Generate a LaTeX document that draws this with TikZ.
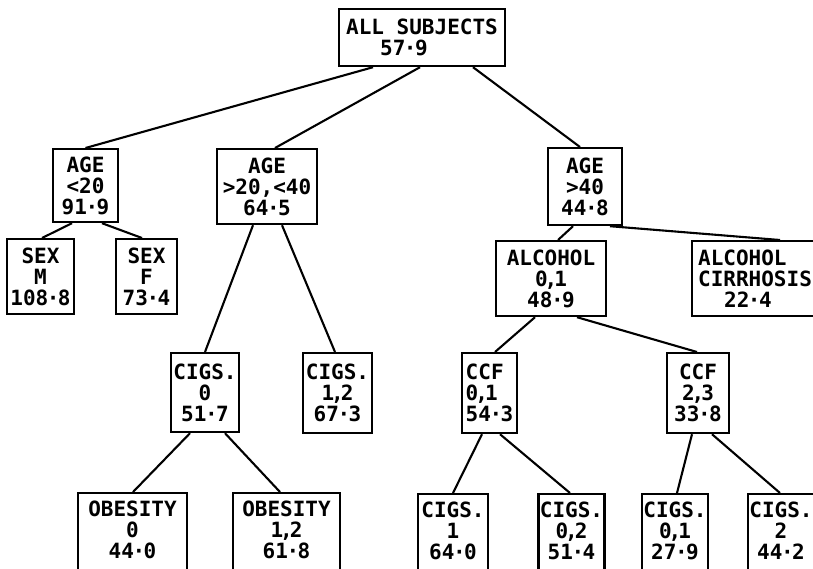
\documentclass[tikz,border=0pt]{standalone}
\usepackage{fontspec}
\newfontfamily\boxfont{DejaVu Sans Mono}
\newcommand{\mydot}{\kern-1.5pt·\kern-1.5pt}
\newcommand{\mycomma}{\kern-3pt,\kern-3pt}
\begin{document}
\begin{tikzpicture}[x=1pt,y=-1pt,
  box/.style={draw, line width=2.2pt, anchor=north, inner xsep=1pt, inner ysep=6pt,
    align=center, font=\boxfont\bfseries\fontsize{21}{21}\selectfont},
  lnk/.style={line width=2.1pt}]
\clip (0,0) rectangle (813,568);
\fill[white] (0,0) rectangle (813,568);
% level 0
\node[box, minimum width=166pt, minimum height=57pt, align=left] (all) at (422,8) {ALL SUBJECTS\\\hspace*{34pt}57\mydot 9};
% level 1
\node[box, minimum width=65pt, minimum height=73pt] (age1) at (85.5,148) {AGE\\<20\\91\mydot 9};
\node[box, minimum width=100pt, minimum height=75pt] (age2) at (267,148) {AGE\\>20,<40\\64\mydot 5};
\node[box, minimum width=74pt, minimum height=77pt] (age3) at (585,147) {AGE\\>40\\44\mydot 8};
% level 2
\node[box, minimum width=67pt, minimum height=75pt] (sexM) at (40.5,238) {SEX\\M\\108\mydot 8};
\node[box, minimum width=61pt, minimum height=75pt] (sexF) at (146.5,238) {SEX\\F\\73\mydot 4};
\node[box, minimum width=110pt, minimum height=75pt] (alc) at (551,240) {ALCOHOL\\0\mycomma 1\\48\mydot 9};
\node[box, minimum width=126pt, minimum height=75pt, align=left] (cirr) at (755,240) {ALCOHOL\\CIRRHOSIS\\\hspace*{26pt}22\mydot 4};
% level 3
\node[box, minimum width=68pt, minimum height=79pt] (cigs0) at (205,352) {CIGS.\\0\\51\mydot 7};
\node[box, minimum width=69pt, minimum height=80pt] (cigs12) at (337.5,352) {CIGS.\\1\mycomma 2\\67\mydot 3};
\node[box, minimum width=55pt, minimum height=80pt, align=left] (ccf01) at (489.5,352) {CCF\\0\mycomma 1\\54\mydot 3};
\node[box, minimum width=62pt, minimum height=80pt] (ccf23) at (698,352) {CCF\\2\mycomma 3\\33\mydot 8};
% level 4
\node[box, minimum width=109pt, inner ysep=8pt] (ob0) at (132.5,492) {OBESITY\\0\\44\mydot 0\\\mbox{}};
\node[box, minimum width=107pt, inner ysep=8pt] (ob12) at (286.5,492) {OBESITY\\1\mycomma 2\\61\mydot 8\\\mbox{}};
\node[box, minimum width=70pt, inner ysep=8pt] (cigsA) at (453,493) {CIGS.\\1\\64\mydot 0\\\mbox{}};
\node[box, minimum width=66pt, inner ysep=8pt] (cigsB) at (571.5,493) {CIGS.\\0\mycomma 2\\51\mydot 4\\\mbox{}};
\node[box, minimum width=66pt, inner ysep=8pt] (cigsC) at (675,493) {CIGS.\\0\mycomma 1\\27\mydot 9\\\mbox{}};
\node[box, minimum width=66pt, inner ysep=8pt] (cigsD) at (781,493) {CIGS.\\2\\44\mydot 2\\\mbox{}};
% connectors
\draw[lnk] ([xshift=-49pt]all.south) -- (age1.north);
\draw[lnk] ([xshift=-2pt]all.south) -- ([xshift=8pt]age2.north);
\draw[lnk] ([xshift=51pt]all.south) -- ([xshift=-5pt]age3.north);
\draw[lnk] ([xshift=-13.5pt]age1.south) -- ([xshift=1.5pt]sexM.north);
\draw[lnk] ([xshift=16.5pt]age1.south) -- ([xshift=-4.5pt]sexF.north);
\draw[lnk] ([xshift=-14pt]age2.south) -- (cigs0.north);
\draw[lnk] ([xshift=15pt]age2.south) -- ([xshift=-2.5pt]cigs12.north);
\draw[lnk] ([xshift=-12pt]age3.south) -- ([xshift=7pt]alc.north);
\draw[lnk] ([xshift=25pt]age3.south) -- ([xshift=25pt]cirr.north);
\draw[lnk] ([xshift=-16pt]alc.south) -- ([xshift=5.5pt]ccf01.north);
\draw[lnk] ([xshift=26pt]alc.south) -- ([xshift=-1pt]ccf23.north);
\draw[lnk] ([xshift=-15pt]cigs0.south) -- ([xshift=0.5pt]ob0.north);
\draw[lnk] ([xshift=20pt]cigs0.south) -- ([xshift=-6.5pt]ob12.north);
\draw[lnk] ([xshift=-7.5pt]ccf01.south) -- (cigsA.north);
\draw[lnk] ([xshift=10.5pt]ccf01.south) -- ([xshift=-1.5pt]cigsB.north);
\draw[lnk] ([xshift=-6pt]ccf23.south) -- ([xshift=2pt]cigsC.north);
\draw[lnk] ([xshift=14pt]ccf23.south) -- ([xshift=-1pt]cigsD.north);
\end{tikzpicture}
\end{document}
